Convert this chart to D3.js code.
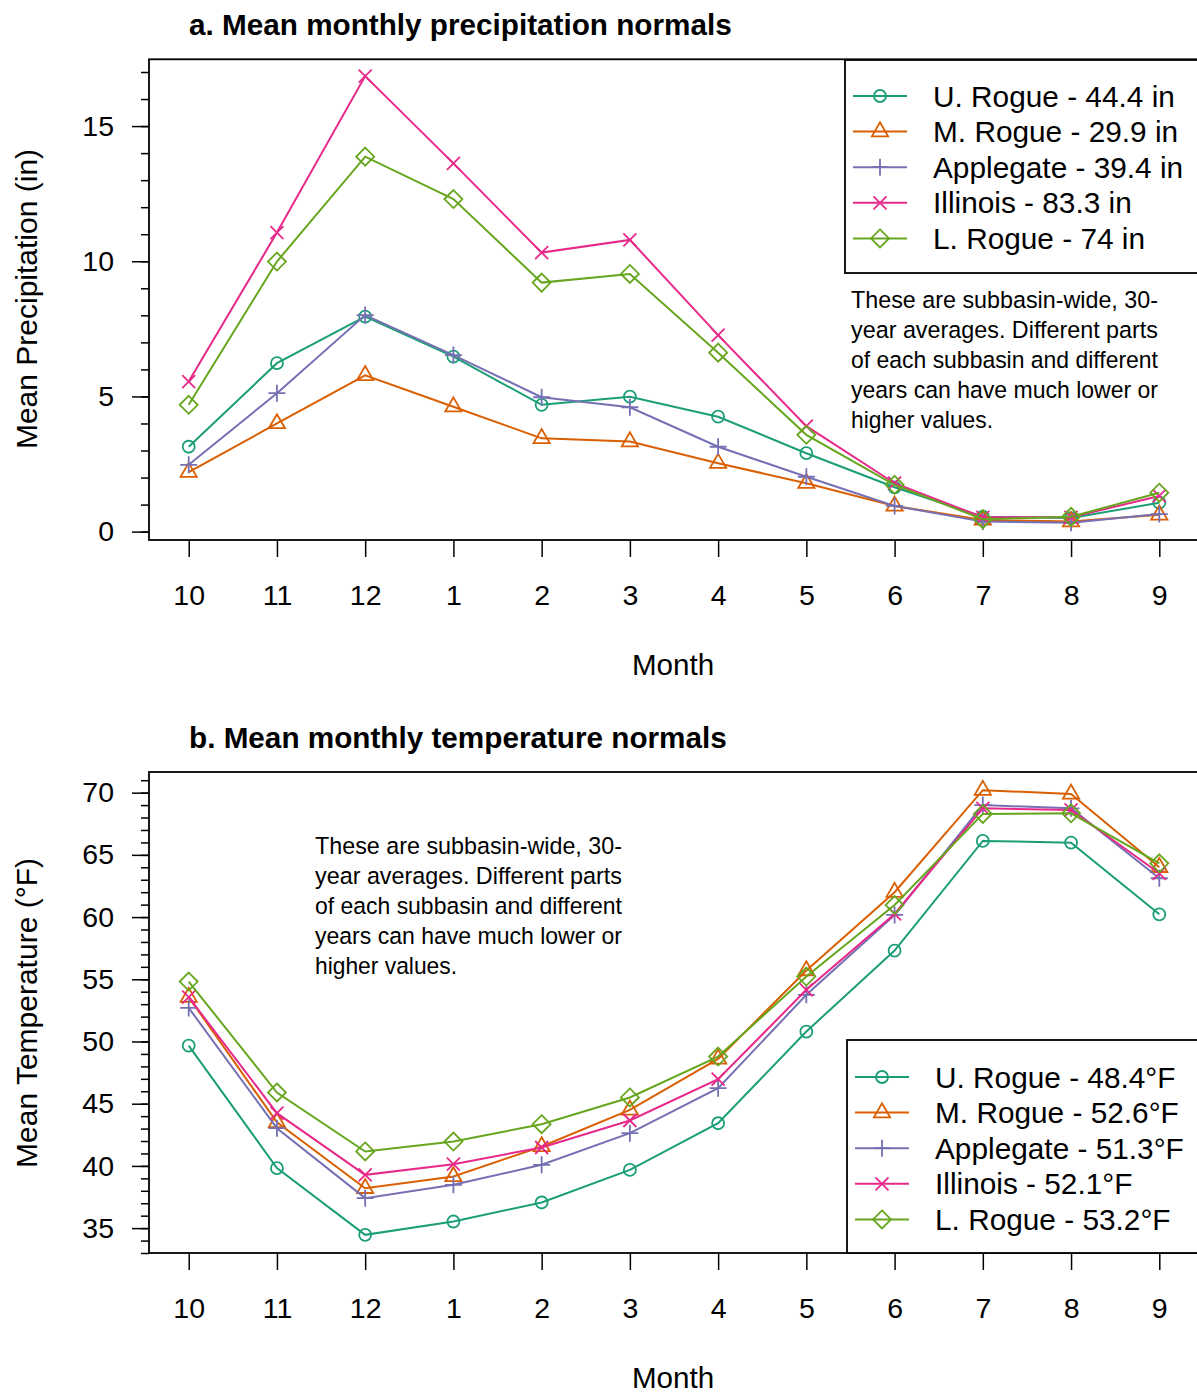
<!DOCTYPE html>
<html lang="en">
<head>
<meta charset="utf-8">
<title>Mean monthly precipitation and temperature normals</title>
<script src="https://d3js.org/d3.v7.min.js"></script>
<style>
  html, body { margin: 0; padding: 0; background: #fff; }
  svg { display: block; font-family: "Liberation Sans", Arial, sans-serif; }
</style>
</head>
<body>
<div id="chart"></div>
<script>
// water-year months, Oct -> Sep
var months = ["10", "11", "12", "1", "2", "3", "4", "5", "6", "7", "8", "9"];
var seriesNames = ["U. Rogue", "M. Rogue", "Applegate", "Illinois", "L. Rogue"];

// mean monthly precipitation (in)
var precipURogue    = [3.14, 6.23, 7.95, 6.47, 4.69, 4.99, 4.25, 2.90, 1.64, 0.55, 0.50, 1.07];
var precipMRogue    = [2.20, 4.00, 5.78, 4.62, 3.45, 3.33, 2.53, 1.79, 0.95, 0.43, 0.37, 0.62];
var precipApplegate = [2.47, 5.12, 8.01, 6.53, 4.97, 4.60, 3.14, 2.03, 0.95, 0.37, 0.33, 0.65];
var precipIllinois  = [5.55, 11.06, 16.85, 13.62, 10.32, 10.79, 7.27, 3.90, 1.79, 0.53, 0.53, 1.32];
var precipLRogue    = [4.69, 9.99, 13.87, 12.30, 9.21, 9.53, 6.62, 3.58, 1.73, 0.46, 0.55, 1.44];
var precipLegend = ["U. Rogue - 44.4 in", "M. Rogue - 29.9 in", "Applegate - 39.4 in",
                    "Illinois - 83.3 in", "L. Rogue - 74 in"];

// mean monthly temperature (F)
var tempURogue    = [49.67, 39.82, 34.46, 35.53, 37.06, 39.68, 43.43, 50.80, 57.31, 66.12, 65.98, 60.22];
var tempMRogue    = [53.56, 43.50, 38.20, 39.15, 41.56, 44.50, 48.60, 55.70, 62.00, 70.20, 69.90, 64.00];
var tempApplegate = [52.70, 43.03, 37.41, 38.48, 40.09, 42.63, 46.25, 53.75, 60.17, 69.00, 68.74, 63.12];
var tempIllinois  = [53.56, 44.24, 39.28, 40.14, 41.48, 43.65, 46.97, 54.15, 60.25, 68.74, 68.61, 63.52];
var tempLRogue    = [54.82, 45.90, 41.16, 41.96, 43.35, 45.50, 48.79, 55.22, 60.97, 68.29, 68.34, 64.32];
var tempLegend = ["U. Rogue - 48.4\u00B0F", "M. Rogue - 52.6\u00B0F", "Applegate - 51.3\u00B0F",
                  "Illinois - 52.1\u00B0F", "L. Rogue - 53.2\u00B0F"];

var precipTicks = [0, 5, 10, 15];
var tempTicks = [35, 40, 45, 50, 55, 60, 65, 70];

var noteLines = ["These are subbasin-wide, 30-", "year averages. Different parts",
                 "of each subbasin and different", "years can have much lower or",
                 "higher values."];

var colors = ["#1B9E77", "#D95F02", "#7570B3", "#E7298A", "#66A61E"];
var shapes = ["circle", "triangle", "plus", "cross", "diamond"];

var W = 1197, H = 1393;
var svg = d3.select("#chart").append("svg")
  .attr("width", W).attr("height", H);

// R-style point symbols as paths
function symbolPath(shape) {
  if (shape == "circle") return "M6,0A6,6 0 1,1 -6,0A6,6 0 1,1 6,0Z";
  if (shape == "triangle") return "M0,-9.3L8.1,4.7L-8.1,4.7Z";
  if (shape == "plus") return "M-8.5,0L8.5,0M0,-8.5L0,8.5";
  if (shape == "cross") return "M-6.5,-6.5L6.5,6.5M-6.5,6.5L6.5,-6.5";
  return "M0,-9L9,0L0,9L-9,0Z";
}

function drawPanel(opt) {
  var g = svg.append("g");
  var x = d3.scaleLinear().domain([-0.45, 11.45]).range([149, 1199]);
  var y = d3.scaleLinear().domain(opt.yDomain).range([opt.bottom, opt.top]);

  // minor y ticks
  g.append("g")
    .attr("transform", "translate(149,0)")
    .call(d3.axisLeft(y).tickValues(d3.range(Math.ceil(opt.yDomain[0]), Math.floor(opt.yDomain[1]) + 1))
      .tickSize(8).tickFormat(""))
    .call(function(a) { a.select(".domain").remove(); })
    .selectAll("line").attr("stroke", "#000").attr("stroke-width", 1.5);

  // major y ticks + labels
  var ya = g.append("g")
    .attr("transform", "translate(149,0)")
    .call(d3.axisLeft(y).tickValues(opt.yTicks).tickSize(17).tickPadding(18));
  ya.select(".domain").remove();
  ya.selectAll("line").attr("stroke", "#000").attr("stroke-width", 1.5);
  ya.selectAll("text").attr("font-size", 28.5).attr("fill", "#000")
    .attr("font-family", "'Liberation Sans', Arial, sans-serif");

  // x ticks + labels
  var xa = g.append("g")
    .attr("transform", "translate(0," + opt.bottom + ")")
    .call(d3.axisBottom(x).tickValues(d3.range(months.length))
      .tickFormat(function(i) { return months[i]; }).tickSize(17).tickPadding(28));
  xa.select(".domain").remove();
  xa.selectAll("line").attr("stroke", "#000").attr("stroke-width", 1.5);
  xa.selectAll("text").attr("font-size", 28.5).attr("fill", "#000")
    .attr("font-family", "'Liberation Sans', Arial, sans-serif");

  // axis titles
  g.append("text")
    .attr("transform", "translate(37," + opt.yLabelY + ") rotate(-90)")
    .attr("text-anchor", "middle")
    .attr("font-size", 30)
    .text(opt.yLabel);
  g.append("text")
    .attr("x", 673).attr("y", opt.bottom + 135)
    .attr("text-anchor", "middle")
    .attr("font-size", 29.6)
    .text("Month");
  g.append("text")
    .attr("x", 189).attr("y", opt.top - 24)
    .attr("font-size", 29.7).attr("font-weight", "bold")
    .text(opt.title);

  // series lines and points
  var line = d3.line()
    .x(function(d, i) { return x(i); })
    .y(function(d) { return y(d); });

  opt.series.forEach(function(vals, s) {
    g.append("path")
      .attr("d", line(vals))
      .attr("fill", "none")
      .attr("stroke", colors[s])
      .attr("stroke-width", 2);
    g.selectAll(null)
      .data(vals)
      .enter()
      .append("path")
        .attr("transform", function(d, i) { return "translate(" + x(i) + "," + y(d) + ")"; })
        .attr("d", symbolPath(shapes[s]))
        .attr("fill", "none")
        .attr("stroke", colors[s])
        .attr("stroke-width", 1.8);
  });

  // plot box
  g.append("rect")
    .attr("x", 149).attr("y", opt.top)
    .attr("width", 1050).attr("height", opt.bottom - opt.top)
    .attr("fill", "none").attr("stroke", "#000").attr("stroke-width", 1.8);

  // legend
  var lg = g.append("g");
  lg.append("rect")
    .attr("x", opt.legX).attr("y", opt.legTop)
    .attr("width", 1199 - opt.legX).attr("height", opt.legBottom - opt.legTop)
    .attr("fill", "#fff").attr("stroke", "#000").attr("stroke-width", 1.8);
  opt.legend.forEach(function(label, s) {
    var cy = opt.legRow0 + s * 35.6;
    lg.append("line")
      .attr("x1", opt.legX + 8).attr("x2", opt.legX + 62)
      .attr("y1", cy).attr("y2", cy)
      .attr("stroke", colors[s]).attr("stroke-width", 2);
    lg.append("path")
      .attr("transform", "translate(" + (opt.legX + 35) + "," + cy + ")")
      .attr("d", symbolPath(shapes[s]))
      .attr("fill", "none").attr("stroke", colors[s]).attr("stroke-width", 1.8);
    lg.append("text")
      .attr("x", opt.legX + 88).attr("y", cy + 10.5)
      .attr("font-size", 29.8)
      .text(label);
  });

  // note
  noteLines.forEach(function(t, i) {
    g.append("text")
      .attr("x", opt.noteX).attr("y", opt.noteY + i * 30)
      .attr("font-size", 24.5)
      .attr("textLength", i < 4 ? 307 : 142)
      .attr("lengthAdjust", "spacingAndGlyphs")
      .text(t);
  });
}

drawPanel({
  title: "a. Mean monthly precipitation normals",
  yLabel: "Mean Precipitation (in)", yLabelY: 299,
  top: 59.3, bottom: 540, yDomain: [-0.31, 17.47], yTicks: precipTicks,
  series: [precipURogue, precipMRogue, precipApplegate, precipIllinois, precipLRogue],
  legend: precipLegend, legX: 845, legTop: 60, legBottom: 273, legRow0: 96,
  noteX: 851, noteY: 308
});

drawPanel({
  title: "b. Mean monthly temperature normals",
  yLabel: "Mean Temperature (\u00B0F)", yLabelY: 1013,
  top: 772, bottom: 1253, yDomain: [33.0, 71.66], yTicks: tempTicks,
  series: [tempURogue, tempMRogue, tempApplegate, tempIllinois, tempLRogue],
  legend: tempLegend, legX: 847, legTop: 1040, legBottom: 1253, legRow0: 1077,
  noteX: 315, noteY: 854
});
</script>
</body>
</html>
